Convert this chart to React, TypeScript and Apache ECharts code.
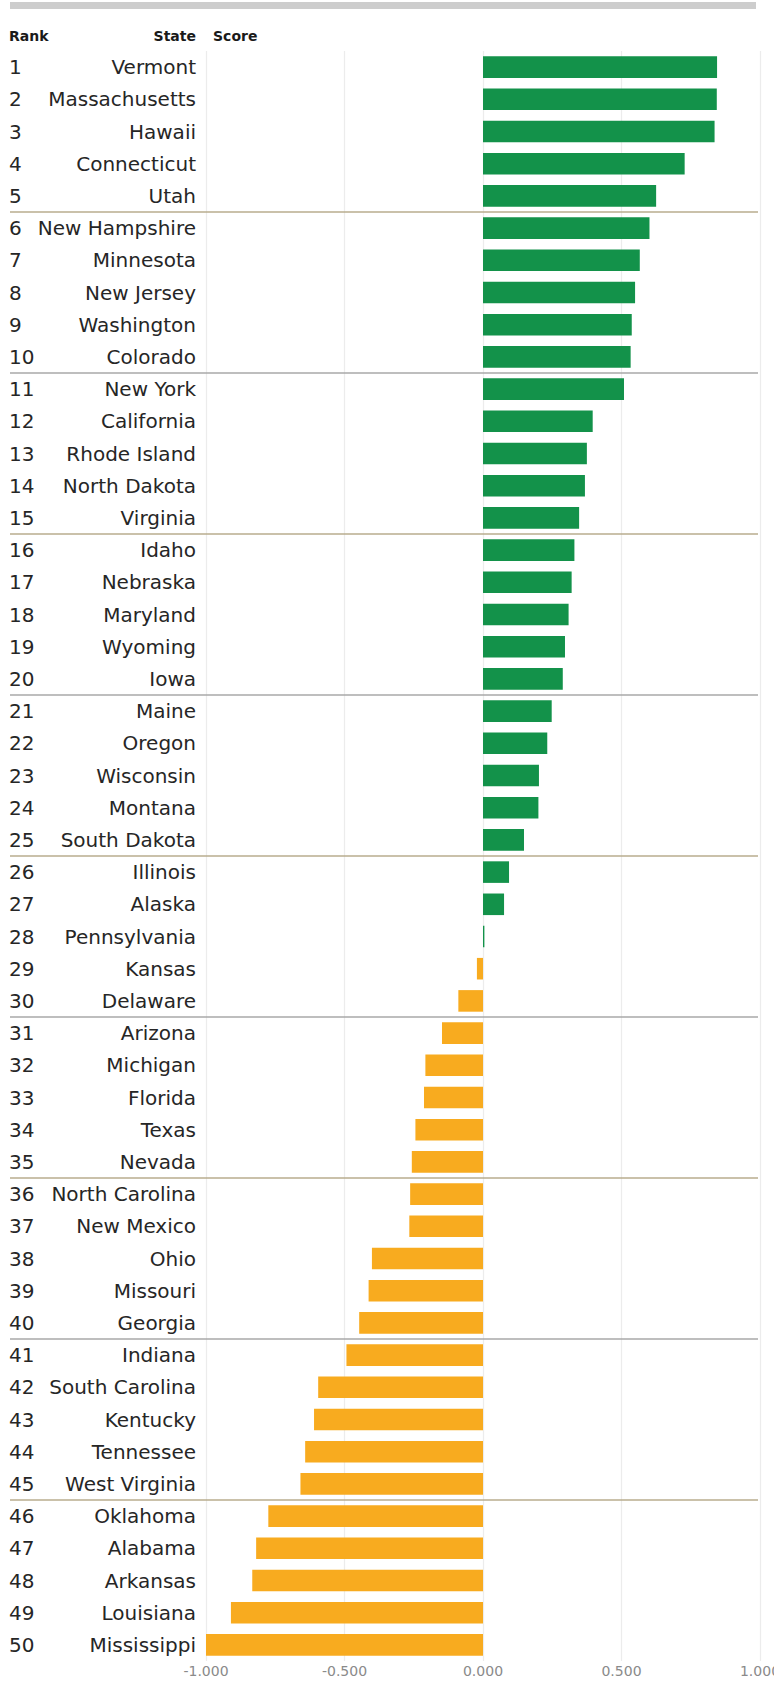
import React, { useEffect, useRef } from "react";
import * as echarts from "echarts";

const states = [
  "Vermont", "Massachusetts", "Hawaii", "Connecticut", "Utah",
  "New Hampshire", "Minnesota", "New Jersey", "Washington", "Colorado",
  "New York", "California", "Rhode Island", "North Dakota", "Virginia",
  "Idaho", "Nebraska", "Maryland", "Wyoming", "Iowa",
  "Maine", "Oregon", "Wisconsin", "Montana", "South Dakota",
  "Illinois", "Alaska", "Pennsylvania", "Kansas", "Delaware",
  "Arizona", "Michigan", "Florida", "Texas", "Nevada",
  "North Carolina", "New Mexico", "Ohio", "Missouri", "Georgia",
  "Indiana", "South Carolina", "Kentucky", "Tennessee", "West Virginia",
  "Oklahoma", "Alabama", "Arkansas", "Louisiana", "Mississippi",
];

const ranks = [
  "1", "2", "3", "4", "5", "6", "7", "8", "9", "10",
  "11", "12", "13", "14", "15", "16", "17", "18", "19", "20",
  "21", "22", "23", "24", "25", "26", "27", "28", "29", "30",
  "31", "32", "33", "34", "35", "36", "37", "38", "39", "40",
  "41", "42", "43", "44", "45", "46", "47", "48", "49", "50",
];

const scores = [
  0.845, 0.844, 0.836, 0.728, 0.625,
  0.601, 0.566, 0.549, 0.537, 0.533,
  0.509, 0.396, 0.375, 0.368, 0.347,
  0.330, 0.320, 0.309, 0.296, 0.288,
  0.248, 0.232, 0.202, 0.200, 0.148,
  0.094, 0.076, 0.005, -0.022, -0.089,
  -0.148, -0.208, -0.213, -0.244, -0.257,
  -0.263, -0.266, -0.401, -0.413, -0.447,
  -0.493, -0.595, -0.610, -0.642, -0.659,
  -0.775, -0.819, -0.833, -0.910, -1.000,
];

const xTicks = { min: -1, max: 1, interval: 0.5 };
const headers = ["Rank", "State", "Score"];
const groupSize = 5;

const GREEN = "#13924a";
const ORANGE = "#f8ab1f";
const FONT = "DejaVu Sans";

export default function App() {
  const ref = useRef<HTMLDivElement>(null);

  useEffect(() => {
    if (!ref.current) return;
    const chart = echarts.init(ref.current, null, { renderer: "svg" });
    const option: any = {
      animation: false,
      backgroundColor: "#ffffff",
      grid: {
        left: 206,
        right: 14,
        top: 51,
        height: 1610,
        containLabel: false,
        outerBoundsMode: "none",
      },
      xAxis: {
        type: "value",
        min: xTicks.min,
        max: xTicks.max,
        interval: xTicks.interval,
        axisLine: { show: false },
        axisTick: { show: false },
        splitLine: { show: true, lineStyle: { color: "#ececec", width: 1.2 } },
        axisLabel: {
          color: "#8a8a8a",
          fontFamily: FONT,
          fontSize: 14,
          margin: 3,
          formatter: (v: number) => v.toFixed(3),
        },
      },
      yAxis: [
        {
          type: "category",
          inverse: true,
          data: states,
          axisLine: { show: false },
          axisTick: { show: false },
          splitLine: { show: false },
          axisLabel: {
            interval: 0,
            color: "#262626",
            fontFamily: FONT,
            fontSize: 20,
            margin: 10,
            padding: [8, 0, 0, 0],
          },
        },
        {
          type: "category",
          inverse: true,
          position: "left",
          data: ranks,
          axisLine: { show: false },
          axisTick: { show: false },
          splitLine: { show: false },
          axisLabel: {
            interval: 0,
            align: "left",
            color: "#262626",
            fontFamily: FONT,
            fontSize: 20,
            margin: 197,
            padding: [8, 0, 0, 0],
          },
        },
      ],
      series: [
        {
          type: "bar",
          yAxisIndex: 0,
          data: scores,
          barCategoryGap: "33%",
          itemStyle: {
            color: (p: any) => (p.value >= 0 ? GREEN : ORANGE),
          },
        },
      ],
    };
    chart.setOption(option);

    const graphics: any[] = [
      {
        type: "rect",
        shape: { x: 10, y: 2, width: 746, height: 7 },
        style: { fill: "#cdcdcd" },
      },
      {
        type: "text",
        style: { x: 9, y: 36, text: headers[0], font: `bold 14px "${FONT}"`, fill: "#1a1a1a", textAlign: "left", textVerticalAlign: "middle" },
      },
      {
        type: "text",
        style: { x: 196, y: 36, text: headers[1], font: `bold 14px "${FONT}"`, fill: "#1a1a1a", textAlign: "right", textVerticalAlign: "middle" },
      },
      {
        type: "text",
        style: { x: 213, y: 36, text: headers[2], font: `bold 14px "${FONT}"`, fill: "#1a1a1a", textAlign: "left", textVerticalAlign: "middle" },
      },
    ];
    for (let k = groupSize; k < states.length; k += groupSize) {
      const y1 = chart.convertToPixel({ yAxisIndex: 0 }, states[k - 1]) as number;
      const y2 = chart.convertToPixel({ yAxisIndex: 0 }, states[k]) as number;
      const y = (y1 + y2) / 2;
      const tan = (k / groupSize) % 2 === 1;
      graphics.push({
        type: "line",
        shape: { x1: 10, y1: y, x2: 758, y2: y },
        style: { stroke: tan ? "#b8ad8e" : "#a8a8a8", lineWidth: 1.5 },
        z: 10,
      });
    }
    chart.setOption({ graphic: graphics });

    return () => chart.dispose();
  }, []);

  return (
    <div
      ref={ref}
      style={{ position: "fixed", left: 0, top: 0, width: 774, height: 1681, background: "#fff" }}
    />
  );
}
